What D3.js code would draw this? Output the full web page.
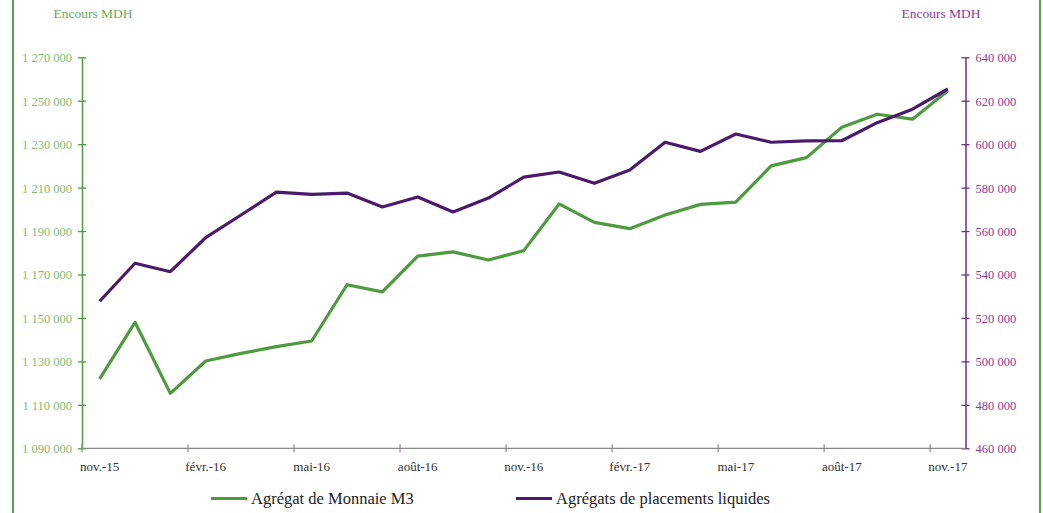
<!DOCTYPE html>
<html><head><meta charset="utf-8">
<script src="https://cdn.jsdelivr.net/npm/d3@7"></script>
<style>body{margin:0;background:#fff;} svg{display:block;}</style>
</head><body>
<svg id="chart" width="1043" height="513"></svg>
<script>
const months = ["nov.-15","déc.-15","janv.-16","févr.-16","mars-16","avr.-16","mai-16","juin-16","juil.-16","août-16","sept.-16","oct.-16","nov.-16","déc.-16","janv.-17","févr.-17","mars-17","avr.-17","mai-17","juin-17","juil.-17","août-17","sept.-17","oct.-17","nov.-17"];
const shownLabels = ["nov.-15","févr.-16","mai-16","août-16","nov.-16","févr.-17","mai-17","août-17","nov.-17"];
const m3 = [1122000,1148000,1115300,1130200,1133700,1136800,1139400,1165300,1162000,1178500,1180400,1176700,1181000,1202500,1194000,1191100,1197400,1202300,1203300,1220000,1223800,1237800,1243800,1241500,1254600];
const placements = [527700,545200,541300,557000,567400,577900,576900,577500,571100,575700,568800,575200,584800,587200,582000,588100,600900,596700,604700,600900,601500,601600,609900,616100,625400];
const leftTicks = [1090000,1110000,1130000,1150000,1170000,1190000,1210000,1230000,1250000,1270000];
const rightTicks = [460000,480000,500000,520000,540000,560000,580000,600000,620000,640000];
const seriesNames = ["Agrégat de Monnaie M3","Agrégats de placements liquides"];
const axisTitle = "Encours MDH";

const svg = d3.select("#chart");
const L = 82, R = 965.5, T = 57.3, B = 448.3;
const green = "#4e9a3f", purple = "#4b1a6b";
const FONT = "Liberation Serif";

const x = d3.scaleBand().domain(months).range([L, R]).paddingInner(0).paddingOuter(0);
const yL = d3.scaleLinear().domain([1090000,1270000]).range([B, T]);
const yR = d3.scaleLinear().domain([460000,640000]).range([B, T]);
const fmt = v => d3.format(",")(v).replace(/,/g, " ");

// frame borders
svg.append("line").attr("x1",13).attr("x2",13).attr("y1",0).attr("y2",513).attr("stroke","#5aa04a").attr("stroke-width",2);
svg.append("line").attr("x1",1040).attr("x2",1040).attr("y1",0).attr("y2",513).attr("stroke","#5aa04a").attr("stroke-width",2);

// left axis
const gL = svg.append("g").attr("transform",`translate(${L},0)`)
  .call(d3.axisLeft(yL).tickValues(leftTicks).tickFormat(fmt).tickSizeInner(4).tickSizeOuter(0));
gL.attr("font-family", null);
gL.select(".domain").attr("stroke", green).attr("stroke-width",1.5);
gL.selectAll(".tick line").attr("stroke", green).attr("x2",4).attr("x1",-4).attr("stroke-width",1.3);
gL.selectAll(".tick text").attr("x",-10).attr("dy","0.35em").attr("fill","#80bd72").style("font-family",FONT).style("font-size","12.5px");

// right axis
const gR = svg.append("g").attr("transform",`translate(${R},0)`)
  .call(d3.axisRight(yR).tickValues(rightTicks).tickFormat(fmt).tickSizeInner(4).tickSizeOuter(0));
gR.attr("font-family", null);
gR.select(".domain").attr("stroke", "#6e2f86").attr("stroke-width",1.5);
gR.selectAll(".tick line").attr("stroke", "#6e2f86").attr("x1",-4).attr("x2",4).attr("stroke-width",1.3);
gR.selectAll(".tick text").attr("x",10).attr("dy","0.35em").attr("fill","#8e3b95").style("font-family",FONT).style("font-size","12.5px");

// bottom axis (category)
const gB = svg.append("g").attr("transform",`translate(0,${B})`);
gB.append("line").attr("x1",L).attr("x2",R).attr("y1",0).attr("y2",0).attr("stroke","#8a8a8a").attr("stroke-width",1.3);
months.forEach((m,i)=>{
  if(i%3===0){
    gB.append("line").attr("x1",x(m)).attr("x2",x(m)).attr("y1",-4).attr("y2",4).attr("stroke","#8a8a8a").attr("stroke-width",1.2);
  }
});
shownLabels.forEach(lbl=>{
  gB.append("text").attr("x", x(lbl)+x.bandwidth()/2).attr("y",23).attr("text-anchor","middle")
    .attr("fill","#333").style("font-family",FONT).style("font-size","13px").text(lbl);
});

// axis titles
svg.append("text").attr("x",93).attr("y",18).attr("text-anchor","middle").attr("fill","#6aaa5e").style("font-family",FONT).style("font-size","13.5px").text(axisTitle);
svg.append("text").attr("x",941).attr("y",18).attr("text-anchor","middle").attr("fill","#8e3b95").style("font-family",FONT).style("font-size","13.5px").text(axisTitle);

// lines
const cx = (d,i) => x(months[i]) + x.bandwidth()/2;
svg.append("path").datum(m3).attr("fill","none").attr("stroke",green).attr("stroke-width",3.2).attr("stroke-linejoin","round")
  .attr("d", d3.line().x(cx).y(d=>yL(d)));
svg.append("path").datum(placements).attr("fill","none").attr("stroke",purple).attr("stroke-width",3.2).attr("stroke-linejoin","round")
  .attr("d", d3.line().x(cx).y(d=>yR(d)));

// legend
const leg = [{name:seriesNames[0], c:green, x:211},{name:seriesNames[1], c:purple, x:516}];
leg.forEach(l=>{
  svg.append("line").attr("x1",l.x).attr("x2",l.x+36).attr("y1",498.5).attr("y2",498.5).attr("stroke",l.c).attr("stroke-width",3.2);
  svg.append("text").attr("x",l.x+40).attr("y",504).attr("fill","#222").style("font-family",FONT).style("font-size","16.5px").text(l.name);
});
</script>
</body></html>
